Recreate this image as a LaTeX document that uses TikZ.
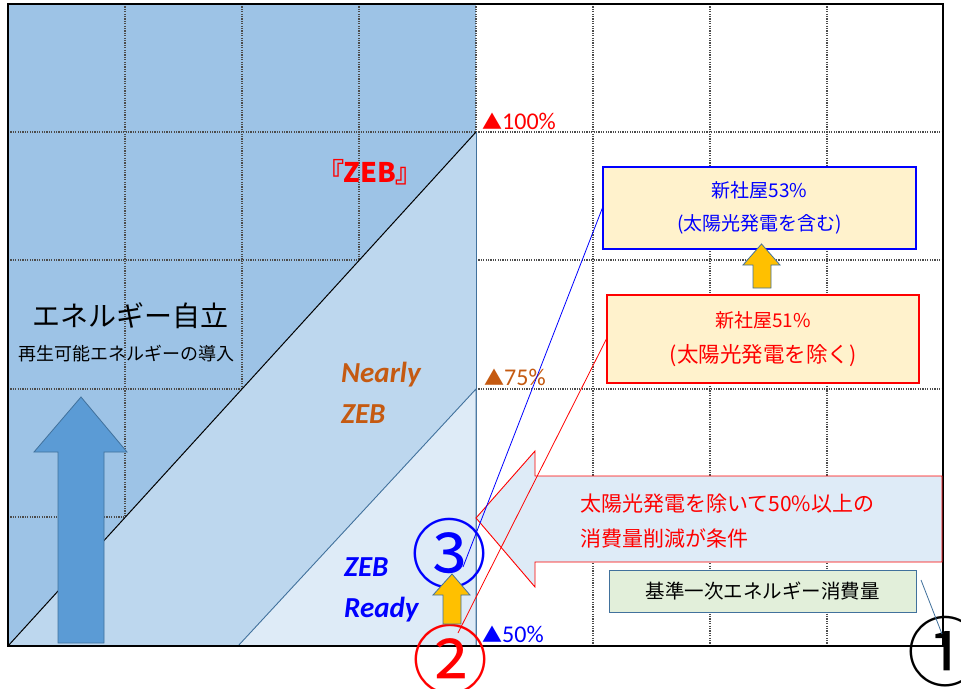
\documentclass[tikz,border=0pt]{standalone}
\usepackage{fontspec}
\setmainfont{Carlito}
\newfontfamily\jp{Noto Sans CJK JP}
\newfontfamily\jpp[RawFeature=+palt]{Noto Sans CJK JP}
\newfontfamily\calfont{Carlito}
\definecolor{darkfill}{HTML}{9DC3E6}
\definecolor{midfill}{HTML}{BDD7EE}
\definecolor{lightfill}{HTML}{DEEBF7}
\definecolor{steel}{HTML}{41719C}
\definecolor{arrowblue}{HTML}{5B9BD5}
\definecolor{gold}{HTML}{FFC000}
\definecolor{cream}{HTML}{FFF2CC}
\definecolor{palegreen}{HTML}{E2EFDA}
\definecolor{brown}{HTML}{C55A11}
\definecolor{pureblue}{HTML}{0000FF}
\definecolor{purered}{HTML}{FF0000}
\begin{document}
\begin{tikzpicture}[x=1pt,y=-1pt,
  gridline/.style={black!70, line width=1.5pt, dash pattern=on 1.2pt off 1.2pt},
  edge/.style={steel, line width=0.9pt},
  yarrow/.style={fill=gold, draw=steel, line width=0.8pt},
  infobox/.style={fill=cream, line width=1.2pt, inner sep=0pt, align=center},
  circnum/.style={font=\jp\fontsize{76}{76}\selectfont, inner sep=0pt},
  pct/.style={anchor=base west, inner sep=0pt},
  zebtext/.style={font=\calfont\bfseries\itshape\fontsize{29}{41}\selectfont, align=left, anchor=base west, inner sep=0pt}]
\useasboundingbox (0,0) rectangle (961,688);
\fill[white] (0,0) rectangle (961,688);
% left coloured area
\fill[darkfill] (8,4) rectangle (476,646);
% grid
\foreach \x in {125,242,359,476,593,710,827} \draw[gridline] (\x,4) -- (\x,646);
\foreach \y in {132,260,389,517} \draw[gridline] (8,\y) -- (943,\y);
% triangles
\fill[midfill] (8,646) -- (476,132) -- (476,646) -- cycle;
\draw[black, line width=1pt] (8,646) -- (476,132);
\draw[edge] (476,132) -- (476,646);
\fill[lightfill] (238,646) -- (476,389) -- (476,646) -- cycle;
\draw[edge] (238,646) -- (476,389) -- (476,646) -- cycle;
% frame
\draw[black, line width=2pt] (8,4) rectangle (943,646);
% big blue arrow
\draw[fill=arrowblue, draw=steel, line width=0.8pt] (58,643) -- (58,452) -- (34,452) -- (81,397) -- (127,452) -- (104,452) -- (104,643) -- cycle;
% texts left
\node[font=\jp\fontsize{28}{30}\selectfont, inner sep=0pt] (selfsuff) at (130,316) {エネルギー自立};
\node[font=\jp\fontsize{18}{20}\selectfont, inner sep=0pt] (renew) at (126,354) {再生可能エネルギーの導入};
\node[text=purered, font=\jpp\bfseries\fontsize{27}{30}\selectfont, inner sep=0pt] (zeb) at (370,172) {『ZEB』};
\node[zebtext, text=brown] (nearly) at (341,423) {Nearly\\ZEB};
\node[zebtext, text=pureblue] (ready) at (344,617) {ZEB\\Ready};
% percent labels
\node[pct, text=purered] (p100) at (482,129) {{\jp\fontsize{20}{20}\selectfont ▲}\fontsize{24}{24}\selectfont 100\%};
\node[pct, text=brown] (p75) at (484,385) {{\jp\fontsize{20}{20}\selectfont ▲}\fontsize{24}{24}\selectfont 75\%};
\node[pct, text=pureblue] (p50) at (482,642) {{\jp\fontsize{20}{20}\selectfont ▲}\fontsize{24}{24}\selectfont 50\%};
% callout
\draw[fill=lightfill, draw=purered, line width=0.9pt] (535,476) -- (942,476) -- (942,562) -- (535,562) -- (535,587) -- (476,518) -- (535,451) -- cycle;
\node[anchor=west, align=left, text=purered, font=\jp\fontsize{21}{35}\selectfont, inner sep=0pt] (cond) at (580,521) {太陽光発電を除いて50\%以上の\\消費量削減が条件};
% boxes
\node[infobox, draw=pureblue, text=pureblue, minimum width=313pt, minimum height=82pt, font=\jp\fontsize{19}{33}\selectfont] (b53) at (759.5,208) {新社屋53\%\\(太陽光発電を含む)};
\node[infobox, draw=purered, text=purered, minimum width=312pt, minimum height=88pt, font=\jp\fontsize{19}{35}\selectfont] (b51) at (763,339) {新社屋51\%\\{\fontsize{21.5}{35}\selectfont (太陽光発電を除く)}};
\node[fill=palegreen, draw=steel, line width=1pt, minimum width=307pt, minimum height=42pt, inner sep=0pt, font=\jp\fontsize{19.5}{20}\selectfont] (base) at (762.5,591) {基準一次エネルギー消費量};
% yellow arrow between boxes
\draw[yarrow] (753,288) -- (753,265) -- (743,265) -- (761.5,244) -- (780,265) -- (771,265) -- (771,288) -- cycle;
% circled numbers
\node[circnum, text=pureblue] (c3) at (449,554) {③};
\node[circnum, text=purered] (c2) at (450,660) {②};
\node[circnum, text=black] (c1) at (945,652) {①};
% connectors
\coordinate (c3end) at (463,567);
\coordinate (c2end) at (458,633);
\coordinate (basetip) at (921,580);
\coordinate (c1end) at (942,634);
\draw[pureblue, line width=0.8pt] (c3end) -- (b53.west);
\draw[purered, line width=0.8pt] (c2end) -- (b51.west);
\draw[steel, line width=0.8pt] (basetip) -- (c1end);
% small yellow arrow
\draw[yarrow] (443,624) -- (443,595) -- (433,595) -- (452,574) -- (470,595) -- (461,595) -- (461,624) -- cycle;
\end{tikzpicture}
\end{document}
